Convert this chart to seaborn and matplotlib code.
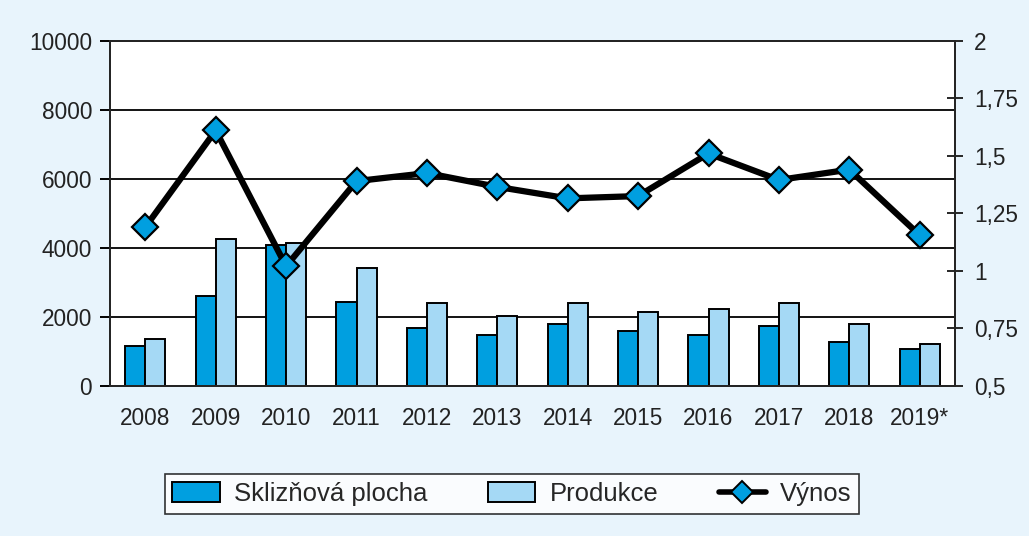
import numpy as np
import pandas as pd
import matplotlib
matplotlib.use("Agg")
import matplotlib.pyplot as plt
from matplotlib.patches import Patch
from matplotlib.lines import Line2D
import seaborn as sns

BG = "#E8F4FC"
DARK = "#009FE0"
LIGHT = "#A5D9F5"

YEARS = ["2008", "2009", "2010", "2011", "2012", "2013",
         "2014", "2015", "2016", "2017", "2018", "2019*"]
PLOCHA = [1170, 2600, 4080, 2440, 1670, 1470, 1790, 1580, 1470, 1730, 1270, 1070]
PRODUKCE = [1370, 4250, 4130, 3430, 2400, 2040, 2400, 2140, 2240, 2400, 1790, 1220]
VYNOS = [1.19, 1.61, 1.02, 1.39, 1.425, 1.365, 1.315, 1.325, 1.51, 1.395, 1.44, 1.155]

LEFT_TICKS = [0, 2000, 4000, 6000, 8000, 10000]
RIGHT_TICKS = [0.5, 0.75, 1, 1.25, 1.5, 1.75, 2]
RIGHT_LABELS = ["0,5", "0,75", "1", "1,25", "1,5", "1,75", "2"]

sns.set_style("white")
plt.rcParams.update({
    "font.family": ["Liberation Sans", "DejaVu Sans"],
    "font.size": 16.3,
    "axes.linewidth": 1.4,
})

df = pd.DataFrame({
    "rok": YEARS * 2,
    "hodnota": PLOCHA + PRODUKCE,
    "serie": ["Sklizňová plocha"] * len(YEARS) + ["Produkce"] * len(YEARS),
})

fig = plt.figure(figsize=(10.29, 5.36), dpi=100, facecolor=BG)
ax = fig.add_axes([0.107, 0.280, 0.821, 0.644])
ax.set_facecolor("white")

sns.barplot(data=df, x="rok", y="hodnota", hue="serie",
            palette=[DARK, LIGHT], saturation=1, edgecolor="black",
            linewidth=1.4, width=0.57, ax=ax, legend=False, zorder=3)
ax.set_ylim(0, 10000)
ax.set_xlim(-0.5, len(YEARS) - 0.5)
ax.set_yticks(LEFT_TICKS)
ax.set_yticklabels([str(t) for t in LEFT_TICKS])
ax.yaxis.grid(True, color="black", linewidth=1.3, zorder=0)
ax.set_axisbelow(True)
ax.set_xlabel("")
ax.set_ylabel("")
ax.tick_params(axis="y", direction="out", length=7, width=1.4, pad=6,
               colors="black", labelcolor="#222222")
ax.set_xticks(np.arange(len(YEARS)))
ax.set_xticklabels(YEARS)
ax.set_xticks(np.arange(len(YEARS) + 1) - 0.5, minor=True)
ax.tick_params(axis="x", which="major", length=0, pad=15, labelcolor="#222222")
ax.tick_params(axis="x", which="minor", direction="inout", length=12, width=1.4)
for s in ["left", "right", "top", "bottom"]:
    ax.spines[s].set_visible(True)
    ax.spines[s].set_color("black")

ax2 = ax.twinx()
sns.lineplot(x=np.arange(len(YEARS)), y=VYNOS, ax=ax2, color="black",
             linewidth=4.5, marker="D", markersize=13, markerfacecolor=DARK,
             markeredgecolor="black", markeredgewidth=1.6, zorder=5)
ax2.set_ylim(0.5, 2)
ax2.set_yticks(RIGHT_TICKS)
ax2.set_yticklabels(RIGHT_LABELS)
ax2.tick_params(axis="y", direction="inout", length=12, width=1.4, pad=8,
                labelcolor="#222222")
ax2.spines["right"].set_linewidth(1.4)
ax2.grid(False)

handles = [
    Patch(facecolor=DARK, edgecolor="black", linewidth=1.4),
    Patch(facecolor=LIGHT, edgecolor="black", linewidth=1.4),
    Line2D([0], [0], color="black", linewidth=4, marker="D", markersize=11,
           markerfacecolor=DARK, markeredgecolor="black", markeredgewidth=1.4),
]
leg = fig.legend(handles, ["Sklizňová plocha", "Produkce", "Výnos"],
                 loc="center", bbox_to_anchor=(0.4976, 0.078), ncol=3,
                 frameon=True, fancybox=False, edgecolor="black",
                 fontsize=18.5, handlelength=1.85, handleheight=0.8,
                 columnspacing=2.35, borderpad=0.3, handletextpad=0.55)
leg.get_frame().set_linewidth(1.2)
leg.get_frame().set_facecolor("white")

fig.savefig("out.png", dpi=100, facecolor=BG)
